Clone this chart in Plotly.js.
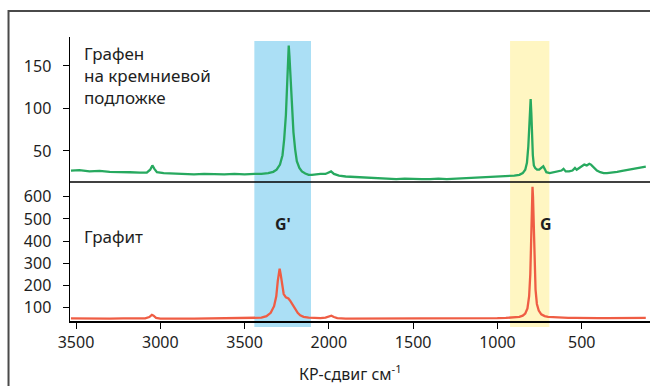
<!DOCTYPE html>
<html>
<head>
<meta charset="utf-8">
<script src="https://cdn.plot.ly/plotly-3.0.1.min.js"></script>
<style>
html,body{margin:0;padding:0;background:#fff;}
#chart{width:650px;height:386px;}
</style>
</head>
<body>
<div id="chart"></div>
<script>
// Graphene on silicon substrate (top panel)
const grapheneShift = [3530,3480,3420,3360,3300,3240,3180,3120,3080,3060,3047,3035,3020,2980,2920,2860,2800,2740,2680,2620,2560,2500,2440,2400,2360,2330,2310,2290,2275,2265,2255,2248,2242,2238,2234,2228,2220,2210,2200,2190,2175,2160,2140,2120,2100,2080,2050,2020,2000,1987,1970,1940,1900,1850,1800,1750,1700,1650,1600,1550,1500,1450,1400,1350,1300,1250,1200,1150,1100,1050,1000,950,900,870,850,835,825,817,812,808,803,799,795,790,784,776,765,752,740,728,720,710,690,660,640,620,608,595,575,555,540,530,515,500,485,470,455,445,430,410,390,370,350,320,290,260,230,200,170,140,120];
const grapheneIntensity = [27,27.5,26,26.5,25.5,25.5,25,24.5,24.5,28,33,29,25,24,23.5,23.5,22.5,23,22.5,22.5,23,22.5,23,23,24,25.5,28,34,45,64,92,125,160,174,162,135,102,72,52,38,30,26,23.5,22,22,22.5,23,23,25,26,23,21,20,19.5,19,18.5,18,17.5,17,17.5,17,17,17,17.5,17,17.5,18,18,18.5,19,19.5,20,21,22,24,28,36,55,80,100,111,95,70,45,33,30,28,28,30,32,29,25,24,25,25.5,27,29,26,26,27,30,28,30,32,34,33,35,34,31,27,25,24,24,24.5,25.5,26.5,27.5,28.5,29.5,30.5,31.5];

// Graphite (bottom panel)
const graphiteShift = [3530,3450,3380,3300,3220,3150,3090,3065,3050,3040,3025,3000,2950,2880,2800,2720,2650,2580,2500,2440,2400,2370,2345,2325,2312,2303,2297,2292,2286,2278,2268,2255,2240,2228,2215,2200,2185,2170,2150,2120,2090,2050,2020,2000,1985,1970,1950,1900,1850,1800,1700,1600,1500,1400,1300,1250,1200,1100,1000,950,900,870,850,835,822,812,805,799,795,792,789,785,780,774,766,755,740,720,700,680,650,620,580,540,500,450,400,350,300,250,200,150,120];
const graphiteIntensity = [50,49,50,49,50,49,50,56,66,62,52,49,50,49,49,50,49,50,50,51,53,60,75,105,150,220,265,275,250,200,160,145,140,128,112,92,75,64,57,53,51,51,53,58,62,56,51,49,49,48,48,48,48,48,49,50,50,50,51,52,54,57,62,72,95,150,250,400,560,645,600,470,300,180,115,85,68,60,57,56,54,53,52,52,51,51,51,51,51,52,52,52,52];

// Highlighted bands (Raman shift ranges)
const bandGprime = [2442, 2106];
const bandG = [925, 692];

// Axis ticks
const xTickVals = [3500,3000,2500,2000,1500,1000,500];
const xTickText = ['3500','3000','3500','2000','1500','1000','500'];
const yTopTicks = [50,100,150];
const yBottomTicks = [100,200,300,400,500,600];

// Texts
const topLabel = ['Графен','на кремниевой','подложке'];
const bottomLabel = 'Графит';
const peakLabels = ["G'", 'G'];
const xTitle = 'КР-сдвиг см<sup>-1</sup>';

const FONT = '"Noto Sans", "Open Sans", sans-serif';
const TXT = '#1e1e1e';

const traces = [
  {x: grapheneShift, y: grapheneIntensity, xaxis: 'x', yaxis: 'y2', type: 'scatter', mode: 'lines',
   line: {color: '#27a95f', width: 2.3}, hoverinfo: 'skip'},
  {x: graphiteShift, y: graphiteIntensity, xaxis: 'x', yaxis: 'y', type: 'scatter', mode: 'lines',
   line: {color: '#ef5d44', width: 2.3}, hoverinfo: 'skip'}
];

const split = 0.4894;
const bandBottom = -0.021, bandTop = 0.986;

const layout = {
  width: 650, height: 386,
  margin: {l: 70, r: 0, t: 37, b: 65},
  paper_bgcolor: '#ffffff',
  plot_bgcolor: 'rgba(0,0,0,0)',
  showlegend: false,
  font: {family: FONT, color: TXT, size: 16},
  xaxis: {
    range: [3535.6, 95], autorange: false,
    tickvals: xTickVals, ticktext: xTickText,
    ticks: 'outside', ticklen: 6, tickcolor: '#000', tickwidth: 1,
    showline: true, linecolor: '#000', linewidth: 1.5,
    showgrid: false, zeroline: false, anchor: 'y',
    tickfont: {family: FONT, size: 16, color: TXT}
  },
  yaxis: {
    domain: [0, split], range: [38, 667], autorange: false,
    tickvals: yBottomTicks, ticks: 'outside', ticklen: 6, tickcolor: '#000',
    showline: true, linecolor: '#000', linewidth: 1.5,
    showgrid: false, zeroline: false, anchor: 'x',
    ticklabelstandoff: 8,
    tickfont: {family: FONT, size: 16, color: TXT}
  },
  yaxis2: {
    domain: [split, 1], range: [13.5, 184.1], autorange: false,
    tickvals: yTopTicks, ticks: 'outside', ticklen: 6, tickcolor: '#000',
    showline: true, linecolor: '#000', linewidth: 1.5,
    showgrid: false, zeroline: false, anchor: 'x',
    ticklabelstandoff: 8,
    tickfont: {family: FONT, size: 16, color: TXT}
  },
  shapes: [
    {type: 'rect', xref: 'x', yref: 'paper', x0: bandGprime[0], x1: bandGprime[1], y0: bandBottom, y1: bandTop,
     fillcolor: '#abdff5', line: {width: 0}, layer: 'below'},
    {type: 'rect', xref: 'x', yref: 'paper', x0: bandG[0], x1: bandG[1], y0: bandBottom, y1: bandTop,
     fillcolor: '#fff6c2', line: {width: 0}, layer: 'below'},
    {type: 'line', xref: 'paper', yref: 'paper', x0: 0, x1: 1, y0: split, y1: split,
     line: {color: '#000', width: 1.5}},
    {type: 'path', xref: 'paper', yref: 'paper',
     path: 'M -0.106 -0.25 L -0.106 1.0915 L 1.01 1.0915',
     line: {color: '#4a4a4a', width: 2}}
  ],
  annotations: [
    {text: topLabel.join('<br>'), xref: 'paper', yref: 'paper', x: 0.0207, y: 0.8627, xanchor: 'left', yanchor: 'middle', align: 'left', showarrow: false, font: {size: 17}},
    {text: bottomLabel, xref: 'paper', yref: 'paper', x: 0.0207, y: 0.2958, xanchor: 'left', yanchor: 'middle', showarrow: false, font: {size: 17}},
    {text: '<b>' + peakLabels[0] + '</b>', xref: 'paper', yref: 'paper', x: 0.367, y: 0.3415, xanchor: 'center', yanchor: 'middle', showarrow: false, font: {size: 16}},
    {text: '<b>' + peakLabels[1] + '</b>', xref: 'paper', yref: 'paper', x: 0.8207, y: 0.3415, xanchor: 'center', yanchor: 'middle', showarrow: false, font: {size: 16}},
    {text: xTitle, xref: 'paper', yref: 'paper', x: 0.4828, y: -0.183, xanchor: 'center', yanchor: 'middle', showarrow: false, font: {size: 16}}
  ]
};

Plotly.newPlot('chart', traces, layout, {staticPlot: true, displayModeBar: false});
</script>
</body>
</html>
